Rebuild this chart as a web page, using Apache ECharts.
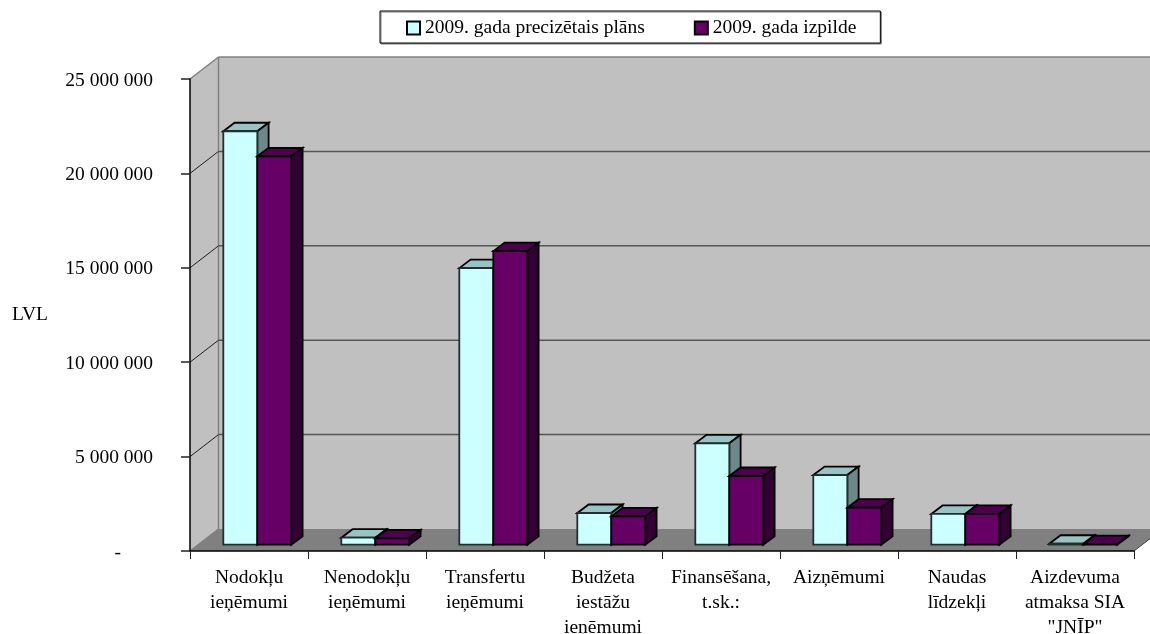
<!DOCTYPE html>
<html><head><meta charset="utf-8">
<style>html,body{margin:0;padding:0;background:#fff}#c{width:1150px;height:634px}</style>
<script src="https://cdn.jsdelivr.net/npm/echarts@6/dist/echarts.min.js"></script>
</head><body><div id="c"></div>
<script>
const categories = ['Nodokļu\nieņēmumi','Nenodokļu\nieņēmumi','Transfertu\nieņēmumi','Budžeta\niestāžu\nieņēmumi','Finansēšana,\nt.sk.:','Aizņēmumi','Naudas\nlīdzekļi','Aizdevuma\natmaksa SIA\n"JNĪP"'];
const planName = '2009. gada precizētais plāns';
const actualName = '2009. gada izpilde';
const planValues = [21900000,370000,14650000,1680000,5370000,3690000,1630000,50000];
const actualValues = [20570000,340000,15550000,1500000,3640000,1960000,1630000,30000];
const gridValues = [5000000,10000000,15000000,20000000];
const yMax = 25000000, yStep = 5000000;
const FONT = '"Liberation Serif","Times New Roman",serif';
const WALL = [28.5,-22], BAR_DEPTH = [11.3,-8.5], BAR_FRONT = [8.3,-6.3], BAR_W = 34;

function poly(pts, fill, stroke, lw){
  return {type:'polygon', shape:{points:pts}, style:{fill:fill, stroke:stroke||null, lineWidth:lw||0}};
}
function line(a,b,stroke,lw){
  return {type:'line', shape:{x1:a[0],y1:a[1],x2:b[0],y2:b[1]}, style:{stroke:stroke, lineWidth:lw}};
}
function wallsRender(params, api){
  const n = categories.length;
  const o = api.coord([0,0]); const step = api.size([1,0])[0];
  const left = o[0]-step/2, right = left+step*n, y0 = o[1], yT = api.coord([0,yMax])[1];
  const dx = WALL[0], dy = WALL[1];
  const ch = [
    poly([[left+dx,yT+dy],[right+dx,yT+dy],[right+dx,y0+dy],[left+dx,y0+dy]],'#c0c0c0'),
    poly([[left,y0],[left,yT],[left+dx,yT+dy],[left+dx,y0+dy]],'#c0c0c0'),
    poly([[left,y0],[left+dx,y0+dy],[right+dx,y0+dy],[right,y0]],'#808080'),
    line([left+dx,yT+dy],[right+dx,yT+dy],'#808080',1.5),
    line([left,yT],[left+dx,yT+dy],'#808080',1.5),
    line([left+dx,yT+dy],[left+dx,y0+dy],'#808080',1.5),
    line([left,y0],[left+dx,y0+dy],'#808080',1.5),
    line([right,y0],[right+dx,y0+dy],'#404040',1)
  ];
  gridValues.forEach(v=>{
    const y = api.coord([0,v])[1];
    ch.push(line([left,y],[left+dx,y+dy],'#202020',1));
    ch.push(line([left+dx,y+dy],[right+dx,y+dy],'#555555',1.5));
  });
  return {type:'group', children:ch};
}
function barRender(which, front, top, side, edge){
  return function(params, api){
    const i = api.value(0), v = api.value(1);
    const base = api.coord([i,0]), tp = api.coord([i,v]);
    const x = base[0]+BAR_FRONT[0]+(which===0?-BAR_W:0);
    const yb = base[1]+BAR_FRONT[1], yt = tp[1]+BAR_FRONT[1];
    const r = x+BAR_W, dx = BAR_DEPTH[0], dy = BAR_DEPTH[1];
    return {type:'group', children:[
      poly([[x,yt],[x+dx,yt+dy],[r+dx,yt+dy],[r,yt]],top,'#000',1.8),
      poly([[r,yt],[r+dx,yt+dy],[r+dx,yb+dy],[r,yb]],side,'#000',1.8),
      poly([[x,yt],[r,yt],[r,yb],[x,yb]],front,edge,1.8)
    ]};
  };
}
const chart = echarts.init(document.getElementById('c'),null,{renderer:'canvas'});
chart.setOption({
  animation:false,
  backgroundColor:'#fff',
  textStyle:{fontFamily:FONT,color:'#000'},
  grid:{left:190,right:16,top:79,bottom:83,containLabel:false,outerBoundsMode:'none'},
  legend:{
    left:380,top:11,orient:'horizontal',
    data:[{name:planName,icon:'rect'},{name:actualName,icon:'rect'}],
    itemWidth:13,itemHeight:13,itemGap:49,
    padding:[7,24,5,26],
    borderColor:'#000',borderWidth:1,backgroundColor:'#fff',
    shadowColor:'#808080',shadowBlur:0,shadowOffsetX:1,shadowOffsetY:1,
    textStyle:{fontFamily:FONT,fontSize:19.5,color:'#000',padding:[3,0,0,0]}
  },
  xAxis:{type:'category',data:categories,z:10,
    axisLine:{show:true,lineStyle:{color:'#000',width:1.5}},
    axisTick:{show:true,length:8,alignWithLabel:false,lineStyle:{color:'#222',width:1}},
    axisLabel:{interval:0,margin:14,fontFamily:FONT,fontSize:19.5,lineHeight:25,color:'#000',hideOverlap:false},
    splitLine:{show:false}
  },
  yAxis:{type:'value',min:0,max:yMax,interval:yStep,z:10,
    name:'LVL',nameLocation:'middle',nameRotate:0,nameGap:142,
    nameTextStyle:{fontFamily:FONT,fontSize:19.5,color:'#000'},
    axisLine:{show:true,lineStyle:{color:'#000',width:1.5}},
    axisTick:{show:true,length:9,lineStyle:{color:'#222',width:1.5}},
    splitLine:{show:false},
    axisLabel:{margin:37,fontFamily:FONT,fontSize:19.5,color:'#000',padding:[3,0,0,0],
      formatter:v=> v===0 ? '{d|-}' : String(v).replace(/\B(?=(\d{3})+$)/g,' '),
      rich:{d:{fontFamily:FONT,fontSize:19.5,padding:[0,32,0,0]}}
    }
  },
  series:[
    {type:'custom',name:'walls',silent:true,z:1,data:[[0,0]],renderItem:wallsRender,clip:false,encode:{x:0,y:1}},
    {type:'custom',name:planName,z:2,clip:false,itemStyle:{color:'#ccffff',borderColor:'#000',borderWidth:1},
     data:planValues.map((v,i)=>[i,v]),encode:{x:0,y:1},renderItem:barRender(0,'#ccffff','#99c3c3','#6d8888','#203030')},
    {type:'custom',name:actualName,z:3,clip:false,itemStyle:{color:'#660066',borderColor:'#000',borderWidth:1},
     data:actualValues.map((v,i)=>[i,v]),encode:{x:0,y:1},renderItem:barRender(1,'#660066','#4d004d','#330033','#000')}
  ]
});
</script></body></html>
